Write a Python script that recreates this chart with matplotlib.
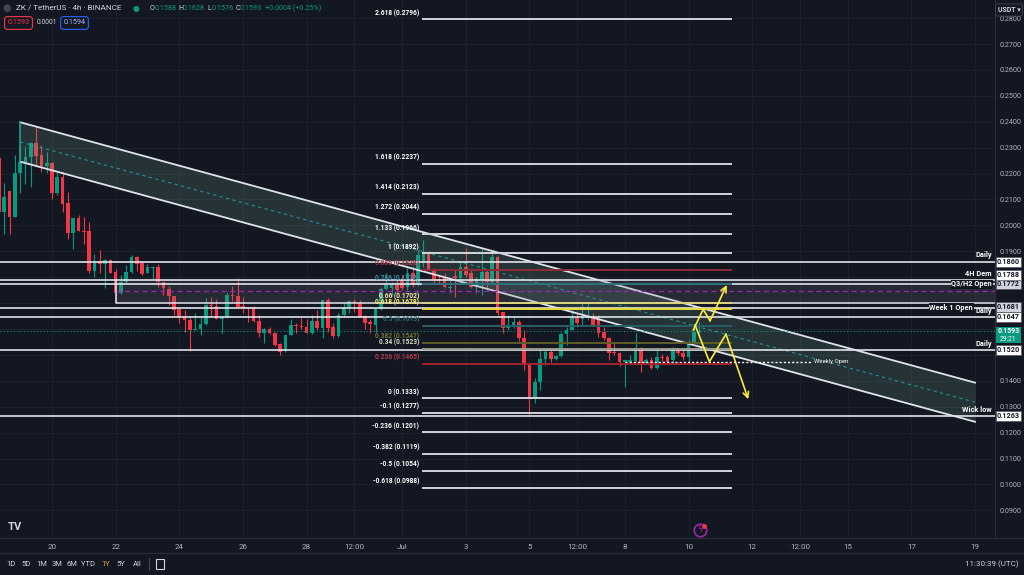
import matplotlib.pyplot as plt
import matplotlib.dates as mdates
import matplotlib.patches as mpatches
from matplotlib.transforms import blended_transform_factory
import numpy as np
import pandas as pd

plt.rcParams['font.family'] = ['Roboto', 'DejaVu Sans']

# ZK / TetherUS 4h candles (Binance)
times = pd.date_range('2024-06-18 08:00', periods=133, freq='4h')
opens = [0.2260, 0.2052, 0.2133, 0.2032, 0.2202, 0.2245, 0.2264, 0.2318, 0.2272, 0.2229,
         0.2241, 0.2125, 0.2187, 0.2086, 0.1971, 0.2029, 0.1978, 0.1978, 0.1824, 0.1863,
         0.1851, 0.1866, 0.1820, 0.1739, 0.1781, 0.1820, 0.1878, 0.1855, 0.1816, 0.1836,
         0.1839, 0.1781, 0.1754, 0.1727, 0.1677, 0.1646, 0.1635, 0.1596, 0.1600, 0.1619,
         0.1693, 0.1689, 0.1639, 0.1646, 0.1731, 0.1727, 0.1689, 0.1685, 0.1685, 0.1631,
         0.1585, 0.1600, 0.1585, 0.1542, 0.1515, 0.1577, 0.1616, 0.1612, 0.1608, 0.1585,
         0.1631, 0.1604, 0.1712, 0.1608, 0.1573, 0.1654, 0.1685, 0.1708, 0.1700, 0.1650,
         0.1627, 0.1616, 0.1677, 0.1754, 0.1758, 0.1770, 0.1789, 0.1762, 0.1816, 0.1770,
         0.1855, 0.1893, 0.1832, 0.1793, 0.1797, 0.1758, 0.1805, 0.1797, 0.1839, 0.1816,
         0.1762, 0.1789, 0.1820, 0.1781, 0.1878, 0.1666, 0.1604, 0.1612, 0.1627, 0.1565,
         0.1461, 0.1330, 0.1396, 0.1484, 0.1511, 0.1484, 0.1496, 0.1581, 0.1596, 0.1643,
         0.1639, 0.1643, 0.1650, 0.1646, 0.1589, 0.1565, 0.1511, 0.1507, 0.1473, 0.1473,
         0.1477, 0.1527, 0.1469, 0.1480, 0.1450, 0.1492, 0.1492, 0.1480, 0.1515, 0.1507,
         0.1492, 0.1546, 0.1588]
highs = [0.2272, 0.2164, 0.2133, 0.2272, 0.2306, 0.2306, 0.2322, 0.2384, 0.2310, 0.2283,
         0.2245, 0.2206, 0.2206, 0.2129, 0.2029, 0.2040, 0.2032, 0.2013, 0.1890, 0.1905,
         0.1870, 0.1870, 0.1832, 0.1809, 0.1847, 0.1886, 0.1882, 0.1859, 0.1851, 0.1843,
         0.1851, 0.1781, 0.1766, 0.1727, 0.1677, 0.1673, 0.1646, 0.1662, 0.1646, 0.1720,
         0.1724, 0.1716, 0.1650, 0.1743, 0.1766, 0.1797, 0.1724, 0.1685, 0.1689, 0.1654,
         0.1604, 0.1608, 0.1589, 0.1546, 0.1577, 0.1639, 0.1623, 0.1643, 0.1639, 0.1654,
         0.1673, 0.1712, 0.1720, 0.1623, 0.1662, 0.1704, 0.1712, 0.1716, 0.1712, 0.1654,
         0.1639, 0.1677, 0.1762, 0.1816, 0.1781, 0.1789, 0.1809, 0.1836, 0.1839, 0.1905,
         0.1944, 0.1901, 0.1836, 0.1809, 0.1816, 0.1789, 0.1828, 0.1859, 0.1913, 0.1828,
         0.1801, 0.1913, 0.1828, 0.1893, 0.1882, 0.1666, 0.1654, 0.1643, 0.1635, 0.1596,
         0.1461, 0.1411, 0.1519, 0.1519, 0.1527, 0.1500, 0.1589, 0.1608, 0.1673, 0.1666,
         0.1704, 0.1704, 0.1662, 0.1654, 0.1608, 0.1569, 0.1546, 0.1511, 0.1480, 0.1500,
         0.1585, 0.1531, 0.1488, 0.1492, 0.1519, 0.1504, 0.1500, 0.1531, 0.1527, 0.1527,
         0.1558, 0.1616, 0.1628]
lows = [0.2040, 0.1967, 0.1967, 0.2032, 0.2125, 0.2160, 0.2148, 0.2233, 0.2206, 0.2202,
        0.2102, 0.2117, 0.2052, 0.1947, 0.1909, 0.1978, 0.1928, 0.1816, 0.1801, 0.1816,
        0.1758, 0.1816, 0.1700, 0.1735, 0.1778, 0.1816, 0.1824, 0.1809, 0.1816, 0.1789,
        0.1762, 0.1731, 0.1693, 0.1654, 0.1623, 0.1589, 0.1515, 0.1596, 0.1577, 0.1616,
        0.1650, 0.1639, 0.1585, 0.1643, 0.1708, 0.1681, 0.1662, 0.1627, 0.1627, 0.1569,
        0.1546, 0.1581, 0.1535, 0.1500, 0.1511, 0.1577, 0.1585, 0.1600, 0.1585, 0.1581,
        0.1596, 0.1565, 0.1589, 0.1565, 0.1569, 0.1650, 0.1662, 0.1666, 0.1646, 0.1600,
        0.1585, 0.1589, 0.1673, 0.1751, 0.1727, 0.1739, 0.1751, 0.1751, 0.1762, 0.1766,
        0.1839, 0.1828, 0.1774, 0.1774, 0.1758, 0.1739, 0.1724, 0.1793, 0.1801, 0.1758,
        0.1739, 0.1731, 0.1751, 0.1778, 0.1654, 0.1585, 0.1596, 0.1604, 0.1554, 0.1442,
        0.1263, 0.1314, 0.1365, 0.1461, 0.1473, 0.1480, 0.1492, 0.1538, 0.1596, 0.1608,
        0.1616, 0.1635, 0.1616, 0.1569, 0.1558, 0.1480, 0.1500, 0.1457, 0.1376, 0.1469,
        0.1473, 0.1434, 0.1465, 0.1446, 0.1446, 0.1473, 0.1469, 0.1465, 0.1500, 0.1480,
        0.1473, 0.1546, 0.1576]
closes = [0.2052, 0.2110, 0.2032, 0.2202, 0.2245, 0.2264, 0.2318, 0.2268, 0.2229, 0.2241,
          0.2125, 0.2187, 0.2083, 0.1971, 0.2029, 0.1978, 0.1975, 0.1824, 0.1863, 0.1851,
          0.1866, 0.1816, 0.1739, 0.1781, 0.1820, 0.1878, 0.1851, 0.1812, 0.1839, 0.1839,
          0.1781, 0.1758, 0.1727, 0.1673, 0.1646, 0.1635, 0.1596, 0.1600, 0.1619, 0.1693,
          0.1689, 0.1639, 0.1646, 0.1731, 0.1727, 0.1685, 0.1681, 0.1681, 0.1631, 0.1585,
          0.1600, 0.1585, 0.1538, 0.1511, 0.1577, 0.1616, 0.1612, 0.1608, 0.1585, 0.1631,
          0.1604, 0.1712, 0.1604, 0.1573, 0.1654, 0.1685, 0.1708, 0.1704, 0.1646, 0.1623,
          0.1619, 0.1677, 0.1754, 0.1770, 0.1770, 0.1751, 0.1758, 0.1816, 0.1770, 0.1886,
          0.1893, 0.1832, 0.1793, 0.1785, 0.1762, 0.1762, 0.1797, 0.1839, 0.1809, 0.1762,
          0.1793, 0.1820, 0.1781, 0.1878, 0.1662, 0.1604, 0.1616, 0.1627, 0.1565, 0.1461,
          0.1330, 0.1396, 0.1484, 0.1511, 0.1484, 0.1496, 0.1581, 0.1596, 0.1643, 0.1623,
          0.1643, 0.1646, 0.1616, 0.1585, 0.1565, 0.1507, 0.1507, 0.1473, 0.1480, 0.1480,
          0.1527, 0.1469, 0.1480, 0.1450, 0.1492, 0.1488, 0.1473, 0.1519, 0.1507, 0.1492,
          0.1546, 0.1589, 0.1593]

# fib extension drawn on the Jul 5 low -> Jul 1 high swing
fib_ratios = ['2.618', '1.618', '1.414', '1.272', '1.133', '1', '0.886', '0.786', '0.66', '0.618',
              '0.5', '0.382', '0.34', '0.236', '0', '-0.1', '-0.236', '-0.382', '-0.5', '-0.618']
fib_prices = [0.2796, 0.2237, 0.2123, 0.2044, 0.1966, 0.1892, 0.1828, 0.1772, 0.1702, 0.1678,
              0.1613, 0.1547, 0.1523, 0.1465, 0.1333, 0.1277, 0.1201, 0.1119, 0.1054, 0.0988]
fib_line_colors = ['#d1d4dc'] * 6 + ['#8e2b35', '#2a6f7a', '#d8d37a', '#e8d93a',
                                      '#2a5f66', '#5e5c25', '#9a9c8e', '#a3232f'] + ['#d1d4dc'] * 6
fib_text_colors = ['#ffffff'] * 6 + ['#9c3a45', '#3d8fa8', '#f0eeb0', '#ffee58',
                                      '#2f6e73', '#77772f', '#d6dcc8', '#b23a48'] + ['#ffffff'] * 6
fib_start, fib_end = '2024-07-01 16:00', '2024-07-11 08:00'

# horizontal levels with their right-hand labels
level_prices = [0.1860, 0.1788, 0.1772, 0.1681, 0.1647, 0.1520, 0.1263]
level_names = ['Daily', '4H Dem', 'Q3/H2 Open', 'Week 1 Open', 'Daily', 'Daily', 'Wick low']
level_box_colors = ['#ffffff', '#ffffff', '#d1d4dc', '#d1d4dc', '#ffffff', '#ffffff', '#ffffff']

# descending channel
channel_t = ['2024-06-19 00:00', '2024-07-19 00:00']
channel_top = [0.2398, 0.1393]
channel_bot = [0.2246, 0.1242]

# 4H demand box
box_start = '2024-06-22 00:00'
box_top, box_bot, box_mid = 0.1788, 0.1700, 0.1746

weekly_open = 0.1474
weekly_t = ['2024-07-08 00:00', '2024-07-13 20:00']

# projected paths (yellow)
path_up_t = ['2024-07-10 03:30', '2024-07-10 11:00', '2024-07-10 16:10', '2024-07-11 04:45']
path_up_p = [0.1596, 0.1676, 0.1632, 0.1770]
path_dn_t = ['2024-07-10 04:50', '2024-07-10 15:40', '2024-07-11 04:10', '2024-07-11 21:00']
path_dn_p = [0.1616, 0.1474, 0.1580, 0.1329]

x_ticks = ['2024-06-20', '2024-06-22', '2024-06-24', '2024-06-26', '2024-06-28', '2024-06-29 12:00',
           '2024-07-01', '2024-07-03', '2024-07-05', '2024-07-06 12:00', '2024-07-08', '2024-07-10',
           '2024-07-12', '2024-07-13 12:00', '2024-07-15', '2024-07-17', '2024-07-19']
x_labels = ['20', '22', '24', '26', '28', '12:00', 'Jul', '3', '5', '12:00', '8', '10', '12',
            '12:00', '15', '17', '19']

current = 0.1593

BG = '#131722'
GRID = '#1c202b'
TXT = '#b2b5be'
UP = '#089981'
DN = '#f23645'
WHITE = '#e0e3eb'


def d(s):
    return mdates.date2num(pd.Timestamp(s))


W, H = 1024, 575
fig = plt.figure(figsize=(W / 100, H / 100), dpi=100, facecolor=BG)
ax = fig.add_axes([0, 37 / H, 995 / W, 538 / H], facecolor=BG)

ymin, ymax = 0.07935, 0.28699
x0 = d('2024-06-20') - 52 / 31.83
x1 = d('2024-06-20') + (995 - 52) / 31.83
ax.set_xlim(x0, x1)
ax.set_ylim(ymin, ymax)
ppu = 538 / (ymax - ymin)

# where the price-axis boxes land (pushed up when they would collide)
gap = 9.6 / ppu
boxh = 10 / ppu
box_pos = []
last = -1
for p, col in sorted(zip(level_prices, level_box_colors)):
    y = max(p, last + gap)
    last = y
    box_pos.append((y, p, col))
covered = [y for y, _, _ in box_pos] + [current - 4 / ppu]

ax.set_xticks([d(s) for s in x_ticks])
ax.set_xticklabels(x_labels)
yt = np.arange(0.09, 0.2801, 0.01)
ax.set_yticks(yt)
ax.set_yticklabels(['' if min(abs(v - y) for y in covered) < 8 / ppu else '%.4f' % v for v in yt])
ax.yaxis.tick_right()
ax.tick_params(axis='y', length=0, pad=3, labelsize=5.2, colors=TXT)
ax.tick_params(axis='x', length=0, pad=4, labelsize=5.8, colors=TXT)
ax.grid(True, color=GRID, lw=0.8)
ax.set_axisbelow(True)
for s in ax.spines.values():
    s.set_visible(False)

# candles
t = mdates.date2num(times)
o = np.array(opens)
c = np.array(closes)
cols = np.where(c >= o, UP, DN)
ax.vlines(t, lows, highs, colors=cols, lw=0.8, zorder=2)
ax.bar(t, np.maximum(np.abs(c - o), 0.00012), bottom=np.minimum(o, c), width=0.115,
       color=cols, lw=0, zorder=2)

# channel
ct = [d(s) for s in channel_t]
ax.fill_between(ct, channel_bot, channel_top, color='#6fa88f', alpha=0.2, lw=0, zorder=3)
ax.plot(ct, channel_top, color=WHITE, lw=1.3, zorder=3)
ax.plot(ct, channel_bot, color=WHITE, lw=1.3, zorder=3)
ax.plot(ct, [(a + b) / 2 for a, b in zip(channel_top, channel_bot)], color='#2a8f99', lw=0.8,
        ls=(0, (3, 3)), zorder=3)
ax.plot([ct[0], ct[0]], [channel_bot[0], channel_top[0]], color='#2a9d8f', lw=1.2, zorder=3)

# demand box
bs = d(box_start)
ax.add_patch(mpatches.Rectangle((bs, box_bot), x1 - bs, box_top - box_bot, facecolor='#787b86',
                                alpha=0.2, lw=0, zorder=3))
ax.plot([bs, bs, x1], [box_top, box_bot, box_bot], color=WHITE, lw=1.1, zorder=3)
ax.plot([bs, x1], [box_mid, box_mid], color='#9c27b0', lw=0.9, ls=(0, (4, 3)), zorder=3)

# horizontal levels
for p, name in zip(level_prices, level_names):
    ax.axhline(p, color=WHITE, lw=1.2, zorder=3)
    if name == 'Q3/H2 Open':
        ax.annotate(name, xy=(992 / 995, p), xycoords=('axes fraction', 'data'), ha='right',
                    va='center', fontsize=5.3, color='white', fontweight='bold', zorder=4,
                    bbox=dict(boxstyle='square,pad=0.1', fc=BG, ec='none'))
    elif name == 'Week 1 Open':
        ax.annotate(name, xy=(973 / 995, p), xycoords=('axes fraction', 'data'), ha='right',
                    va='center', fontsize=5.3, color='white', fontweight='bold', zorder=4,
                    bbox=dict(boxstyle='square,pad=0.1', fc=BG, ec='none'))
    else:
        ax.annotate(name, xy=(992 / 995, p), xycoords=('axes fraction', 'data'), xytext=(0, 4.5),
                    textcoords='offset points', ha='right', va='center', fontsize=5.3,
                    color='white', fontweight='bold', zorder=4)

# current price line
ax.axhline(current, color=UP, lw=0.8, ls=(0, (1, 2)), zorder=3)

# weekly open
wt = [d(s) for s in weekly_t]
ax.plot(wt, [weekly_open] * 2, color='white', lw=1, ls=(0, (1.5, 1.5)), zorder=3)
ax.text(wt[1] + 0.1, weekly_open, 'Weekly Open', color='white', fontsize=4.3, ha='left',
        va='center', zorder=4)

# fib extension
fs, fe = d(fib_start), d(fib_end)
for r, p, lc, tc in zip(fib_ratios, fib_prices, fib_line_colors, fib_text_colors):
    ax.plot([fs, fe], [p, p], color=lc, lw=1.4, zorder=3)
    ax.annotate('%s (%.4f)' % (r, p), xy=(fs, p), xytext=(-3, 4.5), textcoords='offset points',
                ha='right', va='center', fontsize=4.8, color=tc, fontweight='bold', zorder=4)

# projected paths (yellow)
for pt, pp in ((path_up_t, path_up_p), (path_dn_t, path_dn_p)):
    xs = [d(s) for s in pt]
    ax.plot(xs[:-1], pp[:-1], color='#ffeb3b', lw=1.2, zorder=5)
    ax.annotate('', xy=(xs[-1], pp[-1]), xytext=(xs[-2], pp[-2]),
                arrowprops=dict(arrowstyle='->', color='#ffeb3b', lw=1.2,
                                shrinkA=0, shrinkB=0), zorder=5)

# lightning icon
ax.plot(700 / 995, 8 / 538, marker='o', ms=9, mfc='none', mec='#9c27b0', mew=1.2,
        transform=ax.transAxes, clip_on=False)
ax.plot(704 / 995, 12 / 538, marker='o', ms=2.5, color=DN, transform=ax.transAxes,
        clip_on=False)
ax.text(700 / 995, 8 / 538, 'ϟ', color='#9c27b0', fontsize=6, ha='center', va='center',
        transform=ax.transAxes, family='DejaVu Sans')

# frame lines of the chart panes
fig.add_artist(plt.Line2D([995 / W, 995 / W], [37 / H, 1], color='#2a2e39', lw=0.8))
fig.add_artist(plt.Line2D([0, 1], [37 / H, 37 / H], color='#2a2e39', lw=0.8))
fig.add_artist(plt.Line2D([0, 1], [22 / H, 22 / H], color='#2a2e39', lw=0.8))

# price-axis label boxes
trans = blended_transform_factory(fig.transFigure, ax.transData)
for y, p, col in box_pos:
    fig.add_artist(mpatches.Rectangle((996 / W, y - boxh / 2), 25 / W, boxh, transform=trans,
                                      facecolor=col, edgecolor='#50535e', lw=0.5, zorder=5))
    fig.text(1008.5 / W, y, '%.4f' % p, transform=trans, ha='center', va='center', fontsize=5.2,
             color='#131722', fontweight='bold', zorder=6)
fig.add_artist(mpatches.Rectangle((996 / W, current - 12.5 / ppu), 25 / W, 16.5 / ppu,
                                  transform=trans, facecolor=UP, lw=0, zorder=5))
fig.text(1008.5 / W, current, '%.4f' % current, transform=trans, ha='center', va='center',
         fontsize=5.0, color='white', fontweight='bold', zorder=6)
fig.text(1008.5 / W, current - 8.5 / ppu, '29:21', transform=trans, ha='center', va='center',
         fontsize=4.8, color='white', zorder=6)

# USDT unit box
fig.text(1009 / W, 1 - 10 / H, 'USDT ▾', ha='center', va='center', fontsize=5, color='#d1d4dc',
         fontweight='bold', bbox=dict(boxstyle='round,pad=0.3', fc=BG, ec='#434651', lw=0.6))

# header
hy = 1 - 8 / H
fig.text(2.5 / W, hy, '●', color='#434651', fontsize=7, va='center', family=['DejaVu Sans'])
fig.text(16 / W, hy, 'ZK / TetherUS · 4h · BINANCE', color='#d1d4dc', fontsize=5.9, va='center')
fig.text(133 / W, hy, '●', color=UP, fontsize=5.5, va='center', family=['DejaVu Sans'])
ohlc_keys = ['O', 'H', 'L', 'C']
ohlc_vals = [opens[-1], highs[-1], lows[-1], closes[-1]]
for k, (key, val) in enumerate(zip(ohlc_keys, ohlc_vals)):
    xk = (150 + 28.5 * k) / W
    fig.text(xk, hy, key, color='#d1d4dc', fontsize=5.2, va='center')
    fig.text(xk + 4.2 / W, hy, '%.4f' % val, color=UP, fontsize=5.2, va='center')
chg = closes[-1] - closes[-2]
fig.text(265 / W, hy, '+%.4f (+%.2f%%)' % (chg, chg / closes[-2] * 100), color=UP,
         fontsize=5.2, va='center')
fig.text(18.5 / W, 1 - 23 / H, '%.4f' % closes[-1], color=DN, fontsize=5.2, ha='center',
         va='center', bbox=dict(boxstyle='round,pad=0.4', fc=BG, ec=DN, lw=0.8))
fig.text(46.5 / W, 1 - 23 / H, '0.0001', color='#d1d4dc', fontsize=4.8, ha='center', va='center')
fig.text(74.5 / W, 1 - 23 / H, '0.1594', color='#a8b8ff', fontsize=5.2, ha='center', va='center',
         bbox=dict(boxstyle='round,pad=0.4', fc=BG, ec='#2962ff', lw=0.8))

# TradingView logo
fig.text(8 / W, 1 - 527 / H, 'TV', color='#d1d4dc', fontsize=8, fontweight='bold', va='center')

# bottom toolbar
ranges = ['1D', '5D', '1M', '3M', '6M', 'YTD', '1Y', '5Y', 'All']
range_x = [11, 26, 42, 57, 72, 88, 106, 121, 137]
for lab, xp in zip(ranges, range_x):
    fig.text(xp / W, 11 / H, lab, color='#e8a23a' if lab == '1Y' else '#d1d4dc', fontsize=5.5,
             ha='center', va='center')
fig.add_artist(plt.Line2D([149 / W, 149 / W], [5 / H, 17 / H], color='#434651', lw=0.8))
fig.add_artist(mpatches.Rectangle((156 / W, 6 / H), 8 / W, 10 / H, facecolor='none',
                                  edgecolor='#d1d4dc', lw=0.8))
fig.text(1019 / W, 11 / H, '11:30:39 (UTC)', color='#d1d4dc', fontsize=5.8, ha='right',
         va='center')

fig.savefig('out.png', dpi=100, facecolor=BG)
